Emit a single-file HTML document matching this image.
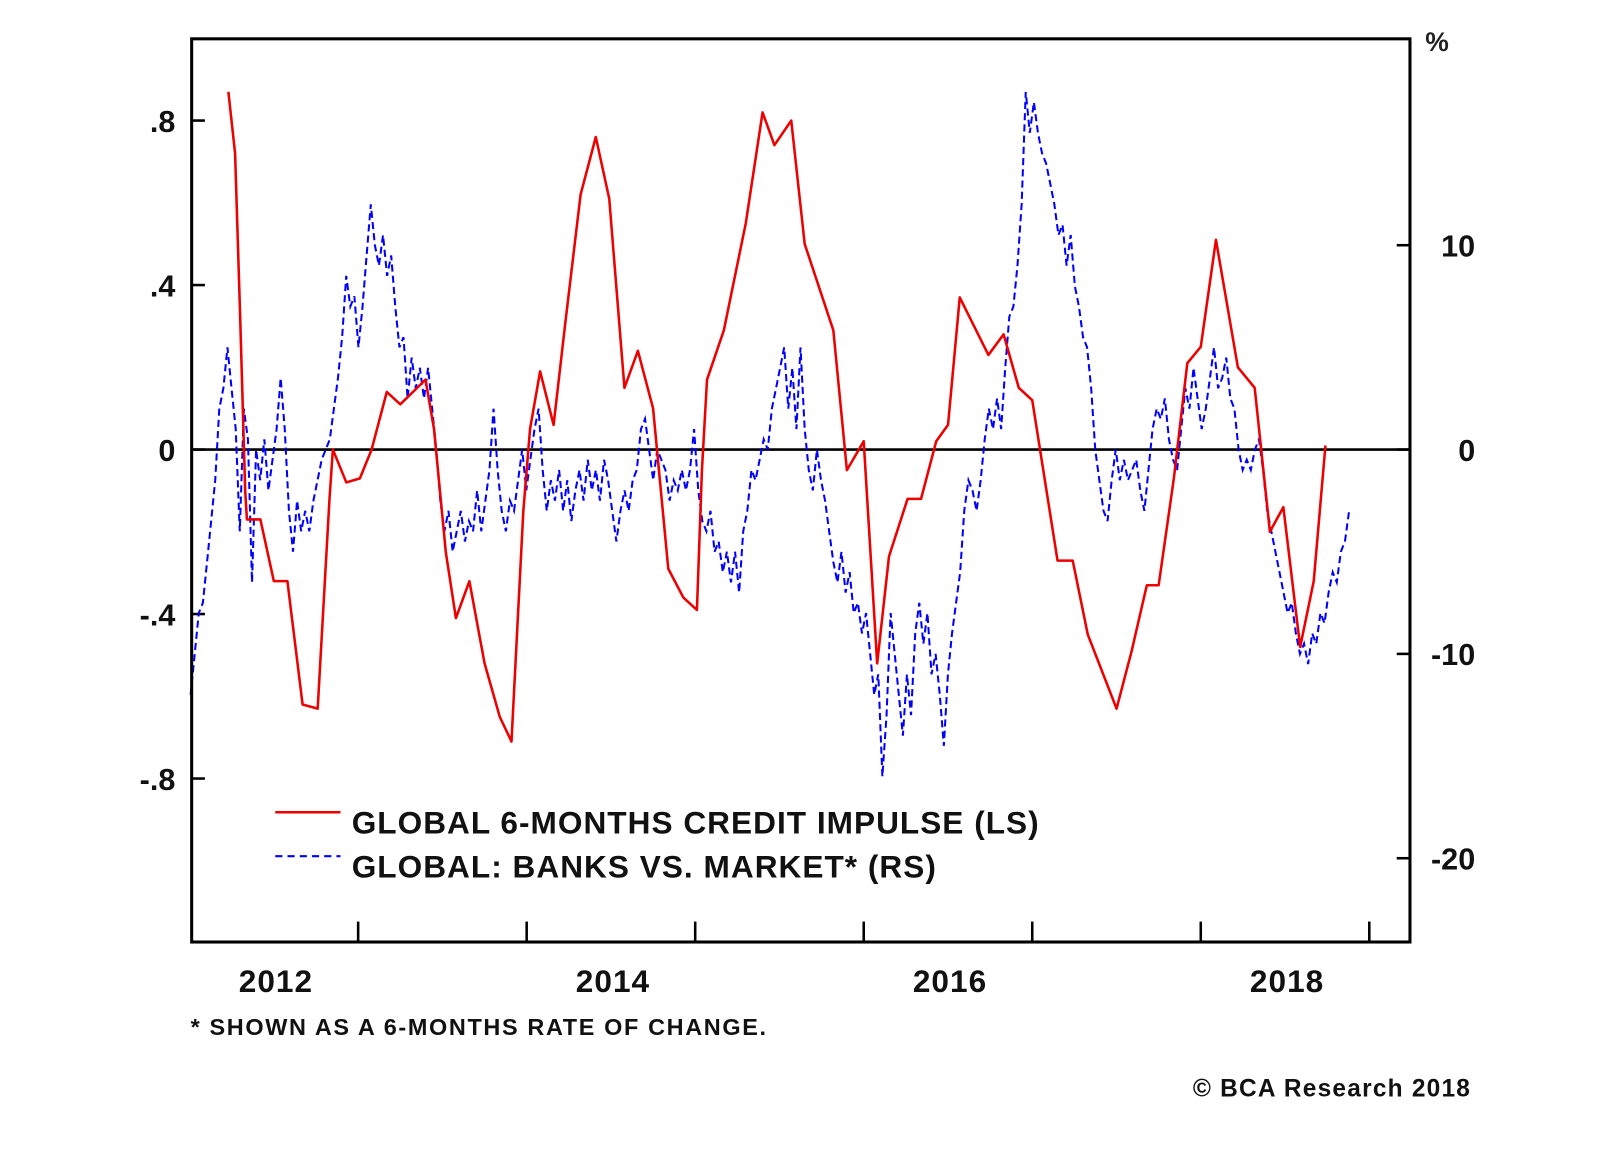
<!DOCTYPE html>
<html><head><meta charset="utf-8"><style>
html,body{margin:0;padding:0;background:#fff;}
svg{display:block;font-family:"Liberation Sans",Arial,sans-serif;font-weight:bold;}
</style></head><body>
<svg id="chart" width="1600" height="1152" viewBox="0 0 1600 1152" xmlns="http://www.w3.org/2000/svg">
<rect x="0" y="0" width="1600" height="1152" fill="#fff"/>
<g transform="scale(1.0195,1.0217)">
<g id="grid"></g>
<g id="series"></g>
<rect x="188" y="38" width="1195" height="884" fill="none" stroke="#000" stroke-width="3"/>
<text x="1398" y="50" font-size="26" fill="#222">%</text>
<line x1="270" y1="795" x2="334" y2="795" stroke="#e00" stroke-width="2.5"/>
<text x="345" y="816" font-size="31" letter-spacing="1" fill="#111">GLOBAL 6-MONTHS CREDIT IMPULSE (LS)</text>
<line x1="270" y1="838" x2="334" y2="838" stroke="#00f" stroke-width="2" stroke-dasharray="7,5"/>
<text x="345" y="859" font-size="31" letter-spacing="1" fill="#111">GLOBAL: BANKS VS. MARKET* (RS)</text>
<text x="187" y="1013" font-size="23" letter-spacing="1.6" fill="#111">* SHOWN AS A 6-MONTHS RATE OF CHANGE.</text>
<text x="1443" y="1073" font-size="24" letter-spacing="1.2" fill="#111" text-anchor="end">© BCA Research 2018</text>
</g>
</svg>
<script>
const leftTicks = [0.8, 0.4, 0, -0.4, -0.8];
const leftTickLabels = [".8", ".4", "0", "-.4", "-.8"];
const rightTicks = [10, 0, -10, -20];
const rightTickLabels = ["10", "0", "-10", "-20"];
const yearTicks = [2013, 2014, 2015, 2016, 2017, 2018, 2019];
const yearLabels = ["2012", "2014", "2016", "2018"];
const yearLabelPos = [2012.5, 2014.5, 2016.5, 2018.5];

const redDates = [2012.23,2012.27,2012.30,2012.33,2012.34,2012.42,2012.50,2012.58,2012.67,2012.76,2012.83,2012.85,2012.93,2013.01,2013.08,2013.17,2013.25,2013.40,2013.45,2013.52,2013.58,2013.66,2013.75,2013.84,2013.91,2013.98,2014.02,2014.08,2014.16,2014.23,2014.32,2014.41,2014.49,2014.58,2014.66,2014.75,2014.84,2014.93,2015.01,2015.04,2015.07,2015.17,2015.30,2015.40,2015.47,2015.57,2015.65,2015.82,2015.90,2016.00,2016.08,2016.15,2016.26,2016.34,2016.43,2016.50,2016.57,2016.74,2016.83,2016.92,2017.00,2017.15,2017.24,2017.33,2017.50,2017.59,2017.68,2017.75,2017.84,2017.92,2018.00,2018.09,2018.22,2018.32,2018.41,2018.49,2018.59,2018.67,2018.74];
const redValues = [0.87,0.72,0.32,-0.10,-0.17,-0.17,-0.32,-0.32,-0.62,-0.63,-0.12,0.00,-0.08,-0.07,0.00,0.14,0.11,0.17,0.05,-0.25,-0.41,-0.32,-0.52,-0.65,-0.71,-0.15,0.05,0.19,0.06,0.31,0.62,0.76,0.61,0.15,0.24,0.10,-0.29,-0.36,-0.39,-0.05,0.17,0.29,0.55,0.82,0.74,0.80,0.50,0.29,-0.05,0.02,-0.52,-0.26,-0.12,-0.12,0.02,0.06,0.37,0.23,0.28,0.15,0.12,-0.27,-0.27,-0.45,-0.63,-0.49,-0.33,-0.33,-0.07,0.21,0.25,0.51,0.20,0.15,-0.20,-0.14,-0.48,-0.32,0.01];

const blueStart = 2012.006;
const blueEnd = 2018.88;
const blueValues = [-12,-10,-8,-7.5,-5.5,-3.5,-1.5,2,3,5,3,1,-4,2,0.5,-6.5,0,-1.5,0.5,-2,-0.5,1,3.5,1,-3,-5,-2.5,-4,-3,-4,-2.5,-1.5,-0.5,0,0.5,2,3.5,5.5,8.5,7,7.5,5,7,9.5,12,10,9,10.5,8.5,9.5,7,5,5.5,2.5,4.5,3,4,2.5,4,2,0,-2.5,-4,-3,-5,-4,-3,-4.5,-3.5,-4,-2,-4,-2.5,-1,2,-1,-3,-4,-2.5,-3,-1.5,0,-2,-0.5,1,2,-1,-3,-1.5,-2.5,-1,-3,-1.5,-3.5,-2,-1,-2.5,-0.5,-2,-1,-2.5,-0.5,-1.5,-3,-4.5,-3,-2,-3,-1.5,-1,1,1.5,0,-1.5,0,-0.5,-1,-2.5,-1.5,-2,-1,-2,-1,1,-2,-3.5,-4,-3,-5,-4.5,-6,-5,-6.5,-5,-7,-4,-3,-1,-1.5,-0.5,0.5,0,2,3,4,5,2,4,1,5,1,-1,-2,0,-1.5,-2.5,-4,-5.5,-6.5,-5,-7,-6,-8,-7.5,-9,-8,-10,-12,-11,-16,-13,-8,-10,-12,-14,-11,-13,-9,-7.5,-9.5,-8,-11,-10,-12,-14.5,-11,-9,-7.5,-6,-3,-1.5,-2,-3,-1.5,0.5,2,1,2.5,1,4,6.5,7,9,12,17.5,15.5,17,15.5,14.5,14,13,12,10.5,11,9,10.5,8,7,5.5,5,3,0,-1.5,-3,-3.5,-1.5,0,-1.5,-0.5,-1.5,-1,-0.5,-2,-3,-1,1,2,1.5,2.5,0.5,-0.5,-1,1,3,2,4,2.5,1,2,3.5,5,3,3.5,4.5,2.5,2,0,-1,-0.5,-1,0,0.5,-1,-3,-4,-5,-6,-7,-8,-7.5,-9,-10,-9.5,-10.5,-9,-9.5,-8,-8.5,-7,-6,-6.5,-5,-4.5,-3];

const NS = "http://www.w3.org/2000/svg";
const X0 = 186, PXY = 165.3;
function xScale(t){ return X0 + (t - 2012) * PXY; }
function yLeft(v){ return 440 - v * 402.5; }
function yRight(v){ return 440 - v * 20; }
function mk(tag, attrs, parent){
  const e = document.createElementNS(NS, tag);
  for (const k in attrs) e.setAttribute(k, attrs[k]);
  parent.appendChild(e);
  return e;
}
const grid = document.getElementById('grid');
const series = document.getElementById('series');

leftTicks.forEach((v,i)=>{
  const y = yLeft(v);
  const t = mk('line',{x1:188,y1:y,x2:201,y2:y,stroke:'#000','stroke-width':2.5},grid);
  
  
  const l = mk('text',{x:172,y:y+11,'font-size':30,'text-anchor':'end',fill:'#111'},grid);
  l.textContent = leftTickLabels[i];
  
  
});
rightTicks.forEach((v,i)=>{
  const y = yRight(v);
  const t = mk('line',{x1:1370,y1:y,x2:1383,y2:y,stroke:'#000','stroke-width':2.5},grid);
  
  
  const l = mk('text',{x:1447,y:y+11,'font-size':30,'text-anchor':'end',fill:'#111'},grid);
  l.textContent = rightTickLabels[i];
  
  
});
yearTicks.forEach(t=>{
  const x = xScale(t);
  const e = mk('line',{x1:x,y1:902,x2:x,y2:922,stroke:'#000','stroke-width':2.5},grid);
  
  
});
yearLabels.forEach((s,i)=>{
  const l = mk('text',{x:xScale(yearLabelPos[i])+2,y:971,'font-size':31,'letter-spacing':1,'text-anchor':'middle',fill:'#111'},grid);
  l.textContent = s;
  
  
});
const zl = mk('line',{x1:188,y1:yLeft(0),x2:1383,y2:yLeft(0),stroke:'#000','stroke-width':2.5},grid);



const n = blueValues.length;
const bPts = blueValues.map((v,i)=>{
  const t = blueStart + (blueEnd - blueStart) * i / (n - 1);
  return xScale(t).toFixed(1) + ',' + yRight(v).toFixed(1);
}).join(' ');
const blue = mk('polyline',{points:bPts,fill:'none',stroke:'#00f','stroke-width':2,'stroke-dasharray':'7,4'},series);



const rPts = redDates.map((t,i)=> xScale(t).toFixed(1) + ',' + yLeft(redValues[i]).toFixed(1)).join(' ');
const red = mk('polyline',{points:rPts,fill:'none',stroke:'#e00','stroke-width':2.5,'stroke-linejoin':'round'},series);


</script>
</body></html>
